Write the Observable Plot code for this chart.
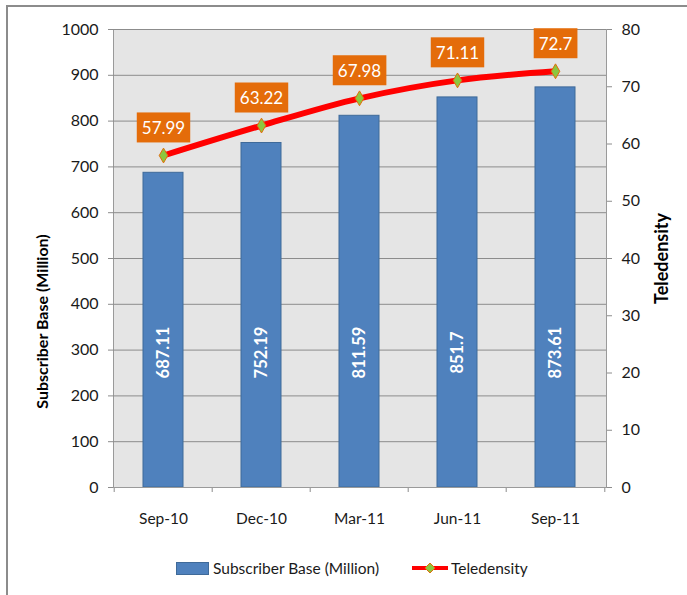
<!DOCTYPE html>
<html><head><meta charset="utf-8">
<script src="https://cdn.jsdelivr.net/npm/d3@7"></script>
<script src="https://cdn.jsdelivr.net/npm/@observablehq/plot@0.6"></script>
<style>
body{margin:0;background:#fff;font-family:Lato,"Open Sans",sans-serif;}
#wrap{position:relative;width:687px;height:595px;overflow:hidden;}
#frame{position:absolute;left:6px;top:5px;right:-10px;bottom:-10px;border-left:2px solid #8c8c8c;border-top:2px solid #8c8c8c;pointer-events:none;}
#chart{position:absolute;left:0;top:0;}
#legend{position:absolute;left:0;top:540px;width:687px;height:55px;font-size:15.5px;color:#1a1a1a;}
.li{position:absolute;top:19px;display:flex;align-items:center;height:18px;}
</style></head>
<body>
<div id="wrap">
  <div id="chart"></div>
  <div id="legend"></div>
  <div id="frame"></div>
</div>
<script>
const periods = ["Sep-10","Dec-10","Mar-11","Jun-11","Sep-11"];
const subscribers = [687.11, 752.19, 811.59, 851.7, 873.61];
const teledensity = [57.99, 63.22, 67.98, 71.11, 72.7];
const leftTicks = [0,100,200,300,400,500,600,700,800,900,1000];
const rightTicks = [0,10,20,30,40,50,60,70,80];
const seriesNames = ["Subscriber Base (Million)", "Teledensity"];

const W = 687, H = 540, ML = 113, MR = 81, MT = 29, MB = 53;
const ratio = 1000 / 80; // right axis (0–80) onto left axis (0–1000)
const bw = (W - ML - MR) / periods.length;

const data = periods.map((p, i) => ({period: p, subs: subscribers[i], tele: teledensity[i]}));

const chart = Plot.plot({
  width: W, height: H,
  marginLeft: ML, marginRight: MR, marginTop: MT, marginBottom: MB,
  style: {fontFamily: "Lato, 'Open Sans', sans-serif", fontSize: "16px", color: "#1a1a1a", background: "transparent"},
  x: {domain: periods, paddingInner: 0.59, paddingOuter: 0.295, align: 0.5, axis: null},
  y: {domain: [0, 1000], axis: null},
  marks: [
    Plot.frame({fill: "#e5e5e5", stroke: "#9a9a9a"}),
    Plot.gridY(leftTicks, {stroke: "#8c8c8c", strokeOpacity: 1, strokeWidth: 1}),
    Plot.barY(data, {x: "period", y: "subs", fill: "#4f81bd", stroke: "#3f6a99", strokeWidth: 1}),
    Plot.text(data, {x: "period", text: d => String(d.subs), frameAnchor: "bottom", dy: -135, rotate: -90,
      fill: "white", fontWeight: "bold", fontSize: 16.5, textAnchor: "middle", lineAnchor: "middle"}),
    Plot.line(data, {x: "period", y: d => d.tele * ratio, stroke: "#ff0000", strokeWidth: 6, curve: "catmull-rom"}),
    Plot.dot(data, {x: "period", y: d => d.tele * ratio, symbol: "diamond", r: 4.5, fill: "#8cc63f", stroke: "#e46c0a", strokeWidth: 1}),
    Plot.text(data, {x: "period", y: d => d.tele * ratio, text: d => String(d.tele), dy: -27,
      fill: "white", fontSize: 17, lineAnchor: "middle"}),
    // left axis
    Plot.axisY(leftTicks, {anchor: "left", tickSize: 5, tickPadding: 10, fontSize: 16, tickFormat: d => String(d), stroke: "#8c8c8c", fill: "#1a1a1a", label: null}),
    // right axis
    Plot.axisY(rightTicks.map(v => v * ratio), {anchor: "right", tickSize: 5, tickPadding: 10, fontSize: 16,
      tickFormat: d => String(Math.round(d / ratio)), stroke: "#8c8c8c", fill: "#1a1a1a", label: null}),
    // x axis labels
    Plot.axisX(periods, {tickSize: 0, tickPadding: 25, fontSize: 15.5, fill: "#1a1a1a", label: null}),
    // x ticks at category boundaries
    Plot.axisX(periods, {tickSize: 5, text: null, dx: -bw / 2, stroke: "#8c8c8c", label: null}),
    Plot.axisX([periods[periods.length - 1]], {tickSize: 5, text: null, dx: bw / 2, stroke: "#8c8c8c", label: null}),
    Plot.ruleY([0], {stroke: "#9a9a9a"}),
    // axis titles
    Plot.text([seriesNames[0]], {text: d => d, frameAnchor: "left", dx: -71, dy: 63, rotate: -90, fontWeight: "bold", fontSize: 16, fill: "#000", textAnchor: "middle", lineAnchor: "middle"}),
    Plot.text(["Teledensity"], {text: d => d, frameAnchor: "right", dx: 56, rotate: -90, fontWeight: "bold", fontSize: 18, fill: "#000", textAnchor: "middle", lineAnchor: "middle"})
  ]
});
document.getElementById("chart").append(chart);

// orange boxes behind teledensity labels
const NS = "http://www.w3.org/2000/svg";
const teleStrings = new Set(teledensity.map(String));
chart.querySelectorAll("text").forEach(t => {
  if (!teleStrings.has(t.textContent)) return;
  const b = t.getBBox();
  const r = document.createElementNS(NS, "rect");
  const cx = b.x + b.width / 2, cy = b.y + b.height / 2;
  r.setAttribute("x", cx - b.width / 2 - 5);
  r.setAttribute("y", cy - 15);
  r.setAttribute("width", b.width + 10);
  r.setAttribute("height", 30);
  r.setAttribute("fill", "#e46c0a");
  const tr = t.getAttribute("transform");
  if (tr) r.setAttribute("transform", tr);
  t.parentNode.insertBefore(r, t);
});

// legend
const lg = document.getElementById("legend");
lg.innerHTML = `
  <div class="li" style="left:176px">
    <span style="display:inline-block;width:31px;height:11px;background:#4f81bd;border:1px solid #3f6a99;margin-right:4px"></span>
    <span>${seriesNames[0]}</span>
  </div>
  <div class="li" style="left:412px">
    <svg width="36" height="14" style="margin-right:3px"><line x1="0" y1="7" x2="36" y2="7" stroke="#ff0000" stroke-width="4"/>
      <path d="M18,2 L23,7 L18,12 L13,7 Z" fill="#8cc63f" stroke="#e46c0a" stroke-width="1"/></svg>
    <span>${seriesNames[1]}</span>
  </div>`;
</script>
</body></html>
